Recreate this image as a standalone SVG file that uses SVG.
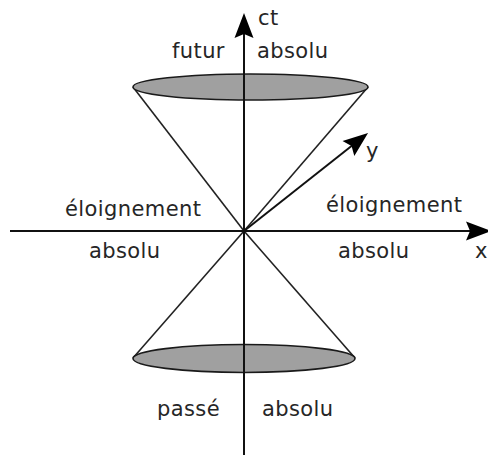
<svg xmlns="http://www.w3.org/2000/svg" width="488" height="455" viewBox="0 0 488 455">
  <style>
    .lbl { font-family: "DejaVu Sans", "Liberation Sans", sans-serif; font-size: 21px; letter-spacing: 0.4px; fill: #262626; }
    .cone { stroke: #222; stroke-width: 1.6; fill: none; }
    .disc { fill: #a0a0a0; stroke: #1a1a1a; stroke-width: 1.6; }
    .axis { stroke: #111; stroke-width: 2; fill: none; }
  </style>
  <defs>
    <marker id="arrow" markerUnits="userSpaceOnUse" viewBox="-26 -11 27 22" markerWidth="27" markerHeight="22" refX="-17" refY="0" orient="auto">
      <path d="M0,0 L-25,-9.5 L-21,0 L-25,9.5 Z" fill="#000"/>
    </marker>
  </defs>

  <g id="cone-lines">
    <line class="cone" x1="133" y1="87" x2="244" y2="231"/>
    <line class="cone" x1="368" y1="87" x2="244" y2="231"/>
    <line class="cone" x1="133" y1="358" x2="244" y2="231"/>
    <line class="cone" x1="355" y1="358" x2="244" y2="231"/>
  </g>

  <g id="future-disc">
    <ellipse class="disc" cx="250.5" cy="87" rx="117.5" ry="13"/>
  </g>
  <g id="past-disc">
    <ellipse class="disc" cx="244" cy="358.5" rx="111" ry="14"/>
  </g>

  <g id="connectors">
    <line id="ct-axis" class="axis" x1="244" y1="455" x2="244" y2="30" marker-end="url(#arrow)"/>
    <line id="x-axis" class="axis" x1="10" y1="231" x2="474" y2="231" marker-end="url(#arrow)"/>
    <line id="y-axis" class="axis" x1="244" y1="231" x2="354.7" y2="143.5" marker-end="url(#arrow)"/>
  </g>

  <g id="labels">
    <text class="lbl" x="258" y="25">ct</text>
    <text class="lbl" x="172" y="58">futur</text>
    <text class="lbl" x="257" y="58">absolu</text>
    <text class="lbl" x="366" y="158">y</text>
    <text class="lbl" x="65" y="216">éloignement</text>
    <text class="lbl" x="89" y="258">absolu</text>
    <text class="lbl" x="326" y="212">éloignement</text>
    <text class="lbl" x="338" y="258">absolu</text>
    <text class="lbl" x="475" y="258">x</text>
    <text class="lbl" x="157" y="416">passé</text>
    <text class="lbl" x="262" y="416">absolu</text>
  </g>
</svg>
